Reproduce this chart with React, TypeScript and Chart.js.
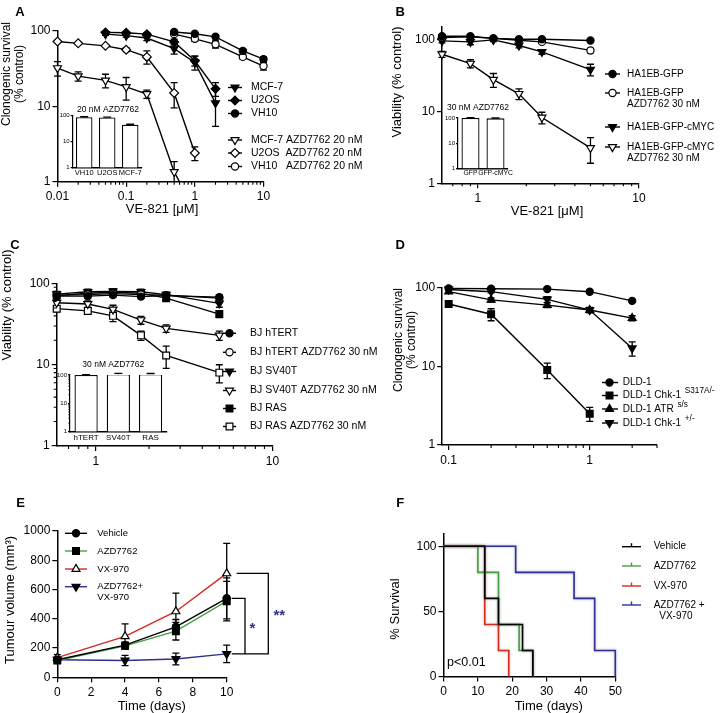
import React, { useEffect, useRef } from 'react';
import { Chart, registerables } from 'chart.js';

Chart.register(...registerables);

const FONT = '"Liberation Sans", Arial, Helvetica, sans-serif';
const INK = '#000000';
const GREEN = '#4a9d44';
const RED = '#d42a1f';
const BLUE = '#2e3192';

// ===== Panel A data =====
const aDoseMCF7 = [0.05, 0.1, 0.2, 0.5, 1, 2];
const aMCF7 = [90, 86, 80, 58, 38, 11];
const aMCF7Err = [3, 4, 6, 9, 8, 5.6];
const aDoseU2OS = [0.05, 0.1, 0.2, 0.5, 1, 2];
const aU2OS = [95, 94, 90, 71, 40, 17];
const aU2OSErr = [3, 3, 4, 6, 6, 3.5];
const aDoseVH10 = [0.5, 1, 2, 5, 10];
const aVH10 = [96, 91, 83, 54, 42];
const aVH10Err = [3, 3, 3, 3, 3];
const aDoseMCF7Azd = [0.01, 0.02, 0.05, 0.1, 0.2, 0.5, 1];
const aMCF7Azd = [32, 25, 22, 18, 14.5, 1.35, 0.42];
const aMCF7AzdErr = [7, 3.5, 4.5, 6, 1.8, 0.5, 0];
const aDoseU2OSAzd = [0.01, 0.02, 0.05, 0.1, 0.2, 0.5, 1];
const aU2OSAzd = [72, 68, 63, 56, 45, 15, 2.4];
const aU2OSAzdErr = [2, 2, 2, 3, 9, 5.5, 0.5];
const aDoseVH10Azd = [0.5, 1, 2, 5, 10];
const aVH10Azd = [90, 78, 66, 45, 34];
const aVH10AzdErr = [4, 6, 7, 3, 4];
const aLabels = ['MCF-7', 'U2OS', 'VH10', 'MCF-7 AZD7762 20 nM', 'U2OS  AZD7762 20 nM', 'VH10   AZD7762 20 nM'];
const aInsetCats = ['VH10', 'U2OS', 'MCF-7'];
const aInsetVals = [88, 85, 45];
const aInsetErr = [3, 3, 2];
const aXTicks = [0.01, 0.1, 1, 10];

// ===== Panel B data =====
const bDose = [0.6, 0.9, 1.25, 1.8, 2.5, 5];
const bGFP = [110, 110, 103, 100, 100, 96];
const bGFPErr = [5, 4, 3, 3, 3, 3];
const bGFPAzd = [106, 108, 103, 97, 92, 70];
const bGFPAzdErr = [5, 4, 3, 3, 4, 5];
const bMYC = [95, 92, 98, 82, 67, 38];
const bMYCErr = [6, 8, 5, 6, 5, 7];
const bMYCAzd = [62, 46, 27.5, 17.5, 8.2, 3.1];
const bMYCAzdErr = [6, 6, 6, 3, 1.5, 1.2];
const bInsetCats = ['GFP', 'GFP-cMYC'];
const bInsetVals = [100, 97];
const bInsetErr = [4, 3];
const bXTicks = [1, 10];

// ===== Panel C data =====
const cDose = [0.6, 0.9, 1.25, 1.8, 2.5, 5];
const cHTERT = [70, 70, 72, 69, 71, 68];
const cHTERTErr = [5, 5, 4, 4, 4, 5];
const cHTERTAzd = [72, 73, 75, 73, 72, 66];
const cHTERTAzdErr = [4, 4, 4, 4, 4, 4];
const cSV40 = [74, 79, 80, 79, 73, 57];
const cSV40Err = [6, 6, 6, 6, 5, 6];
const cSV40Azd = [58, 56, 48, 35.5, 28, 23];
const cSV40AzdErr = [5, 5, 6, 4, 3, 3];
const cRAS = [71, 76, 78, 76, 66, 42];
const cRASErr = [5, 5, 5, 5, 5, 4];
const cRASAzd = [49, 46, 40, 23, 13, 8];
const cRASAzdErr = [4, 4, 6, 3, 4, 2];
const cLabels = ['BJ hTERT', 'BJ hTERT AZD7762 30 nM', 'BJ SV40T', 'BJ SV40T AZD7762 30 nM', 'BJ RAS', 'BJ RAS AZD7762 30 nM'];
const cInsetCats = ['hTERT', 'SV40T', 'RAS'];
const cInsetVals = [100, 106, 107];
const cInsetErr = [2, 8, 6];
const cXTicks = [1, 10];

// ===== Panel D data =====
const dDose = [0.1, 0.2, 0.5, 1, 2];
const dDLD = [98, 97, 96, 89, 68];
const dDLDErr = [3, 3, 3, 3, 3];
const dDoseChk1SA = [0.1, 0.2, 0.5, 1];
const dChk1SA = [62, 46, 9, 2.5];
const dChk1SAErr = [3, 8, 2, 0.5];
const dATR = [89, 70, 60, 52, 41];
const dATRErr = [4, 4, 4, 3, 3];
const dChk1Het = [95, 89, 71, 52, 17];
const dChk1HetErr = [3, 3, 6, 4, 3.5];
const dXTicks = [0.1, 1];

const logYTicks = [1, 10, 100];

// ===== Panel E data =====
const eDays = [0, 4, 7, 10];
const eVehicle = [120, 220, 345, 540];
const eVehicleErr = [15, 20, 50, 140];
const eAZD = [115, 215, 315, 520];
const eAZDErr = [15, 20, 60, 135];
const eVX = [135, 280, 450, 710];
const eVXErr = [20, 85, 125, 205];
const eCombo = [120, 115, 125, 160];
const eComboErr = [15, 35, 40, 60];
const eXTicks = [0, 2, 4, 6, 8, 10];
const eYTicks = [0, 200, 400, 600, 800, 1000];

// ===== Panel F data =====
const fVehTimes = [0, 12, 16, 23, 26];
const fVehSurv = [100, 60, 40, 20, 0];
const fAZDTimes = [0, 10, 16, 22, 26];
const fAZDSurv = [100, 80, 40, 20, 0];
const fVXTimes = [0, 12, 16, 19];
const fVXSurv = [100, 40, 20, 0];
const fComboTimes = [0, 21, 38, 44, 50];
const fComboSurv = [100, 80, 60, 20, 0];
const fXTicks = [0, 10, 20, 30, 40, 50];
const fYTicks = [0, 50, 100];

// ===== layout =====
type Rect = { left: number; top: number; width: number; height: number };
type Plot = { x0: number; y0: number; x1: number; y1: number };

const A_CANVAS: Rect = { left: 0, top: 0, width: 362, height: 230 };
const A_PLOT: Plot = { x0: 57.5, y0: 30.7, x1: 263.5, y1: 181.7 };
const AI_CANVAS: Rect = { left: 36, top: 100, width: 120, height: 80 };
const AI_PLOT: Plot = { x0: 72.7, y0: 115.7, x1: 141.7, y1: 167.7 };

const B_CANVAS: Rect = { left: 362, top: 0, width: 363, height: 230 };
const B_PLOT: Plot = { x0: 442, y0: 26.6, x1: 639, y1: 183.3 };
const BI_CANVAS: Rect = { left: 425, top: 100, width: 95, height: 82 };
const BI_PLOT: Plot = { x0: 458, y0: 118, x1: 508, y1: 168.5 };

const C_CANVAS: Rect = { left: 0, top: 230, width: 395, height: 240 };
const C_PLOT: Plot = { x0: 56.7, y0: 283.5, x1: 272.5, y1: 446 };
const CI_CANVAS: Rect = { left: 35, top: 355, width: 140, height: 92 };
const CI_PLOT: Plot = { x0: 70, y0: 375, x1: 166.7, y1: 431.7 };

const D_CANVAS: Rect = { left: 362, top: 230, width: 363, height: 240 };
const D_PLOT: Plot = { x0: 442.2, y0: 287.7, x1: 657, y1: 445 };

const E_CANVAS: Rect = { left: 0, top: 470, width: 362, height: 243 };
const E_PLOT: Plot = { x0: 57.3, y0: 531, x1: 226.7, y1: 677.3 };

const F_CANVAS: Rect = { left: 362, top: 470, width: 363, height: 243 };
const F_PLOT: Plot = { x0: 443.5, y0: 533.3, x1: 615.3, y1: 676.5 };

function padFor(c: Rect, p: Plot, yw: number, xh: number) {
  return {
    left: p.x0 - c.left - yw,
    top: p.y0 - c.top,
    right: c.left + c.width - p.x1,
    bottom: c.top + c.height - p.y1 - xh,
  };
}

// ===== markers =====
type Shape = { shape: string; rot: number; r: number };
const CIRCLE: Shape = { shape: 'circle', rot: 0, r: 3.6 };
const SQUARE: Shape = { shape: 'rect', rot: 0, r: 4.8 };
const DIAMOND: Shape = { shape: 'rectRot', rot: 0, r: 4.4 };
const TRI_UP: Shape = { shape: 'triangle', rot: 0, r: 4.6 };
const TRI_DOWN: Shape = { shape: 'triangle', rot: 180, r: 4.6 };

function drawMarker(ctx: CanvasRenderingContext2D, sh: Shape, x: number, y: number, fill: string, stroke: string) {
  ctx.save();
  ctx.beginPath();
  const r = sh.r;
  if (sh.shape === 'circle') ctx.arc(x, y, r, 0, Math.PI * 2);
  else if (sh.shape === 'rect') {
    const s = r * Math.SQRT1_2;
    ctx.rect(x - s, y - s, 2 * s, 2 * s);
  } else if (sh.shape === 'rectRot') {
    ctx.moveTo(x - r, y);
    ctx.lineTo(x, y - r);
    ctx.lineTo(x + r, y);
    ctx.lineTo(x, y + r);
    ctx.closePath();
  } else {
    let a = (sh.rot * Math.PI) / 180;
    for (let k = 0; k < 3; k++) {
      const px = x + Math.sin(a) * r;
      const py = y - Math.cos(a) * r;
      if (k === 0) ctx.moveTo(px, py);
      else ctx.lineTo(px, py);
      a += (2 * Math.PI) / 3;
    }
    ctx.closePath();
  }
  ctx.fillStyle = fill;
  ctx.fill();
  ctx.lineWidth = 1.2;
  ctx.strokeStyle = stroke;
  ctx.stroke();
  ctx.restore();
}

function text(
  ctx: CanvasRenderingContext2D,
  s: string,
  x: number,
  y: number,
  o: { size?: number; bold?: boolean; align?: CanvasTextAlign; rot?: number; color?: string } = {}
) {
  ctx.save();
  ctx.font = `${o.bold ? 'bold ' : ''}${o.size ?? 12}px ${FONT}`;
  ctx.fillStyle = o.color ?? INK;
  ctx.textAlign = o.align ?? 'center';
  ctx.textBaseline = 'middle';
  ctx.translate(x, y);
  if (o.rot) ctx.rotate(o.rot);
  ctx.fillText(s, 0, 0);
  ctx.restore();
}

type Row = { y: number; shape?: Shape; filled?: boolean; line?: string; lines: string[]; sup?: string; censor?: boolean };
function drawLegend(
  ctx: CanvasRenderingContext2D,
  rows: Row[],
  g: { x0: number; x1: number; mx: number; tx: number; size: number; lh: number }
) {
  for (const r of rows) {
    ctx.save();
    ctx.strokeStyle = r.line ?? INK;
    ctx.lineWidth = 1.4;
    ctx.beginPath();
    ctx.moveTo(g.x0, r.y);
    ctx.lineTo(g.x1, r.y);
    ctx.stroke();
    if (r.censor) {
      ctx.beginPath();
      ctx.moveTo(g.mx, r.y - 3.5);
      ctx.lineTo(g.mx, r.y);
      ctx.stroke();
    }
    ctx.restore();
    if (r.shape) drawMarker(ctx, r.shape, g.mx, r.y, r.filled ? INK : '#ffffff', INK);
    r.lines.forEach((s, i) => text(ctx, s, g.tx, r.y + i * g.lh, { size: g.size, align: 'left' }));
    if (r.sup) {
      ctx.save();
      ctx.font = `${g.size}px ${FONT}`;
      const w = ctx.measureText(r.lines[0]).width;
      ctx.restore();
      text(ctx, r.sup, g.tx + w + 1, r.y - 4.5, { size: g.size * 0.82, align: 'left' });
    }
  }
}

// ===== plugins =====
function decor(c: Rect, draw: (ctx: CanvasRenderingContext2D, chart: any) => void) {
  return {
    id: 'decor',
    afterDraw(chart: any) {
      const ctx = chart.ctx as CanvasRenderingContext2D;
      ctx.save();
      ctx.translate(-c.left, -c.top);
      draw(ctx, chart);
      ctx.restore();
    },
  };
}

function errorBars(errs: (number[] | null)[], cap: number, upOnly = false) {
  return {
    id: 'errbars',
    beforeDatasetsDraw(chart: any) {
      const ctx = chart.ctx as CanvasRenderingContext2D;
      const area = chart.chartArea;
      ctx.save();
      ctx.strokeStyle = INK;
      ctx.lineWidth = 1.3;
      errs.forEach((e, di) => {
        if (!e) return;
        const meta = chart.getDatasetMeta(di);
        const ys = chart.scales[meta.yAxisID];
        const ds = chart.data.datasets[di];
        meta.data.forEach((pt: any, i: number) => {
          const err = e[i];
          if (!err) return;
          const raw = ds.data[i];
          const v = typeof raw === 'number' ? raw : raw.y;
          const x = pt.x;
          const yTop = ys.getPixelForValue(v + err);
          const yMid = ys.getPixelForValue(v);
          const lo = v - err;
          let yBot = upOnly ? yMid : lo > 0 || ys.type !== 'logarithmic' ? ys.getPixelForValue(lo) : area.bottom + 10;
          let botCap = !upOnly;
          if (yBot > area.bottom) {
            yBot = area.bottom;
            botCap = false;
          }
          ctx.beginPath();
          ctx.moveTo(x, yTop);
          ctx.lineTo(x, yBot);
          ctx.moveTo(x - cap, yTop);
          ctx.lineTo(x + cap, yTop);
          if (botCap) {
            ctx.moveTo(x - cap, yBot);
            ctx.lineTo(x + cap, yBot);
          }
          ctx.stroke();
        });
      });
      ctx.restore();
    },
  };
}

function minorTicks(spec: { axis: string; values: number[]; len: number }[]) {
  return {
    id: 'minorticks',
    afterDraw(chart: any) {
      const ctx = chart.ctx as CanvasRenderingContext2D;
      ctx.save();
      ctx.strokeStyle = INK;
      ctx.lineWidth = 1.1;
      for (const s of spec) {
        const sc = chart.scales[s.axis];
        ctx.beginPath();
        for (const v of s.values) {
          const p = sc.getPixelForValue(v);
          if (sc.isHorizontal()) {
            ctx.moveTo(p, sc.top);
            ctx.lineTo(p, sc.top + s.len);
          } else {
            ctx.moveTo(sc.right, p);
            ctx.lineTo(sc.right - s.len, p);
          }
        }
        ctx.stroke();
      }
      ctx.restore();
    },
  };
}

function halo(colors: string[]) {
  return {
    id: 'halo',
    beforeDatasetDraw(chart: any, args: any) {
      const ctx = chart.ctx as CanvasRenderingContext2D;
      ctx.save();
      ctx.shadowColor = colors[args.index];
      ctx.shadowBlur = 2.5;
    },
    afterDatasetDraw(chart: any) {
      chart.ctx.restore();
    },
  };
}

function logMinor(min: number, max: number): number[] {
  const out: number[] = [];
  for (let d = Math.floor(Math.log10(min)); d <= Math.ceil(Math.log10(max)); d++) {
    const base = Math.pow(10, d);
    for (let m = 2; m <= 9; m++) {
      const v = m * base;
      if (v > min * 1.001 && v < max * 1.001) out.push(v);
    }
  }
  return out;
}

// ===== axis factory =====
function axis(
  kind: 'x' | 'y',
  size: number,
  fontSize: number,
  tickLen: number,
  pad: number,
  ticks: number[] | null,
  extra: any = {},
  labels: string[] | null = null
) {
  const o: any = {
    position: kind === 'x' ? 'bottom' : 'left',
    afterFit: (ax: any) => {
      if (kind === 'x') ax.height = size;
      else ax.width = size;
    },
    grid: {
      display: true,
      drawOnChartArea: false,
      drawTicks: tickLen > 0,
      tickLength: tickLen,
      color: INK,
      lineWidth: 1.2,
    },
    border: { display: true, color: INK, width: 1.5 },
    ticks: {
      color: INK,
      font: { family: FONT, size: fontSize },
      padding: pad,
      maxRotation: 0,
      minRotation: 0,
      autoSkip: false,
      callback: labels ? (_v: any, i: number) => labels[i] : (v: any) => String(v),
    },
    ...extra,
  };
  if (ticks) o.afterBuildTicks = (ax: any) => {
    ax.ticks = ticks.map((v) => ({ value: v }));
  };
  return o;
}

function baseOptions(c: Rect, p: Plot, yw: number, xh: number, scales: any) {
  return {
    responsive: false,
    maintainAspectRatio: false,
    animation: false,
    events: [],
    devicePixelRatio: 1,
    layout: { autoPadding: false, padding: padFor(c, p, yw, xh) },
    plugins: { legend: { display: false }, tooltip: { enabled: false }, title: { display: false } },
    scales,
  };
}

function series(xs: number[], ys: number[], sh: Shape, filled: boolean, line = INK, extra: any = {}) {
  return {
    data: xs.map((x, i) => ({ x, y: ys[i] })),
    borderColor: line,
    backgroundColor: line,
    borderWidth: 1.4,
    pointStyle: sh.shape,
    pointRotation: sh.rot,
    pointRadius: sh.r,
    pointHoverRadius: sh.r,
    pointBackgroundColor: filled ? INK : '#ffffff',
    pointBorderColor: INK,
    pointBorderWidth: 1.2,
    tension: 0,
    clip: false,
    ...extra,
  };
}

const TICK = 12;
const YW = 36;
const XH = 22;

// ===== Panel A =====
function makeA() {
  return {
    type: 'line',
    data: {
      datasets: [
        series(aDoseMCF7, aMCF7, TRI_DOWN, true),
        series(aDoseU2OS, aU2OS, DIAMOND, true),
        series(aDoseVH10, aVH10, CIRCLE, true),
        series(aDoseMCF7Azd, aMCF7Azd, TRI_DOWN, false, INK, { clip: { left: false, top: false, right: false, bottom: 0 } }),
        series(aDoseU2OSAzd, aU2OSAzd, DIAMOND, false),
        series(aDoseVH10Azd, aVH10Azd, CIRCLE, false),
      ],
    },
    options: baseOptions(A_CANVAS, A_PLOT, YW, XH, {
      x: { type: 'logarithmic', min: 0.01, max: 10, ...axis('x', XH, TICK, 5, 3, aXTicks) },
      y: { type: 'logarithmic', min: 1, max: 100, ...axis('y', YW, TICK, 5, 2, logYTicks) },
    }),
    plugins: [
      errorBars([aMCF7Err, aU2OSErr, aVH10Err, aMCF7AzdErr, aU2OSAzdErr, aVH10AzdErr], 3.5),
      minorTicks([{ axis: 'x', values: logMinor(0.01, 10), len: 3 }]),
      decor(A_CANVAS, (ctx) => {
        text(ctx, 'A', 20, 12, { size: 13, bold: true });
        text(ctx, 'Clonogenic survival', 7, 74, { size: 12, rot: -Math.PI / 2 });
        text(ctx, '(% control)', 20, 74, { size: 12, rot: -Math.PI / 2 });
        text(ctx, 'VE-821 [\u03bcM]', 162, 209, { size: 13 });
        const shapes: [Shape, boolean, number][] = [
          [TRI_DOWN, true, 87.5],
          [DIAMOND, true, 100.5],
          [CIRCLE, true, 113.5],
          [TRI_DOWN, false, 140],
          [DIAMOND, false, 153],
          [CIRCLE, false, 166.5],
        ];
        drawLegend(
          ctx,
          shapes.map(([s, f, y], i) => ({ y, shape: s, filled: f, lines: [aLabels[i]] })),
          { x0: 228, x1: 242, mx: 235, tx: 251, size: 10.5, lh: 11 }
        );
      }),
    ],
  };
}

function makeInset(
  c: Rect,
  p: Plot,
  cats: string[],
  vals: number[],
  errs: number[],
  title: string,
  tx: number,
  ty: number,
  yMinor: boolean,
  labelSize: number
) {
  const plugins: any[] = [
    errorBars([errs], 4, true),
    decor(c, (ctx) => {
      text(ctx, title, tx, ty, { size: 8.5 });
    }),
  ];
  if (yMinor) plugins.push(minorTicks([{ axis: 'y', values: logMinor(1, 100), len: 1.5 }]));
  return {
    type: 'bar',
    data: {
      labels: cats,
      datasets: [
        {
          data: vals,
          backgroundColor: '#ffffff',
          borderColor: INK,
          borderWidth: 1.3,
          barPercentage: 0.72,
          categoryPercentage: 1,
        },
      ],
    },
    options: baseOptions(c, p, 14, 10, {
      x: { type: 'category', ...axis('x', 10, labelSize, 0, 1, null, {}, cats) },
      y: { type: 'logarithmic', min: 1, max: 100, ...axis('y', 14, 6, 2, 1, logYTicks, { border: { display: true, color: INK, width: 1.2 } }) },
    }),
    plugins,
  };
}

const makeAInset = () => makeInset(AI_CANVAS, AI_PLOT, aInsetCats, aInsetVals, aInsetErr, '20 nM AZD7762', 108, 110, false, 7.5);
const makeBInset = () => makeInset(BI_CANVAS, BI_PLOT, bInsetCats, bInsetVals, bInsetErr, '30 nM AZD7762', 478, 107.5, false, 6.8);
const makeCInset = () => makeInset(CI_CANVAS, CI_PLOT, cInsetCats, cInsetVals, cInsetErr, '30 nM AZD7762', 113.3, 365, true, 8);

// ===== Panel B =====
function makeB() {
  return {
    type: 'line',
    data: {
      datasets: [
        series(bDose, bGFP, CIRCLE, true),
        series(bDose, bGFPAzd, CIRCLE, false),
        series(bDose, bMYC, TRI_DOWN, true),
        series(bDose, bMYCAzd, TRI_DOWN, false),
      ],
    },
    options: baseOptions(B_CANVAS, B_PLOT, YW, XH, {
      x: { type: 'logarithmic', min: 0.6, max: 10, ...axis('x', XH, TICK, 5, 3, bXTicks) },
      y: { type: 'logarithmic', min: 1, max: 150, ...axis('y', YW, TICK, 5, 2, logYTicks) },
    }),
    plugins: [
      errorBars([bGFPErr, bGFPAzdErr, bMYCErr, bMYCAzdErr], 3.5),
      minorTicks([{ axis: 'x', values: logMinor(0.6, 10), len: 3 }]),
      decor(B_CANVAS, (ctx) => {
        text(ctx, 'B', 400.3, 12, { size: 13, bold: true });
        text(ctx, 'Viability (% control)', 397, 82, { size: 13, rot: -Math.PI / 2 });
        text(ctx, 'VE-821 [\u03bcM]', 547, 211, { size: 13 });
        drawLegend(
          ctx,
          [
            { y: 74, shape: CIRCLE, filled: true, lines: ['HA1EB-GFP'] },
            { y: 93, shape: CIRCLE, filled: false, lines: ['HA1EB-GFP', 'AZD7762 30 nM'] },
            { y: 127, shape: TRI_DOWN, filled: true, lines: ['HA1EB-GFP-cMYC'] },
            { y: 147, shape: TRI_DOWN, filled: false, lines: ['HA1EB-GFP-cMYC', 'AZD7762 30 nM'] },
          ],
          { x0: 605, x1: 620, mx: 612.5, tx: 627, size: 10, lh: 11 }
        );
      }),
    ],
  };
}

// ===== Panel C =====
function makeC() {
  return {
    type: 'line',
    data: {
      datasets: [
        series(cDose, cHTERT, CIRCLE, true),
        series(cDose, cHTERTAzd, CIRCLE, false),
        series(cDose, cSV40, TRI_DOWN, true),
        series(cDose, cSV40Azd, TRI_DOWN, false),
        series(cDose, cRAS, SQUARE, true),
        series(cDose, cRASAzd, SQUARE, false),
      ],
    },
    options: baseOptions(C_CANVAS, C_PLOT, YW, XH, {
      x: { type: 'logarithmic', min: 0.6, max: 10, ...axis('x', XH, TICK, 5, 3, cXTicks) },
      y: { type: 'logarithmic', min: 1, max: 100, ...axis('y', YW, TICK, 5, 2, logYTicks) },
    }),
    plugins: [
      errorBars([cHTERTErr, cHTERTAzdErr, cSV40Err, cSV40AzdErr, cRASErr, cRASAzdErr], 3.5),
      minorTicks([
        { axis: 'x', values: logMinor(0.6, 10), len: 3 },
        { axis: 'y', values: logMinor(1, 100), len: 3 },
      ]),
      decor(C_CANVAS, (ctx) => {
        text(ctx, 'C', 15, 245, { size: 13, bold: true });
        text(ctx, 'Viability (% control)', 7, 305, { size: 13, rot: -Math.PI / 2 });
        text(ctx, 'VE-821 [\u03bcM]', 157, 478, { size: 13 });
        const shapes: [Shape, boolean][] = [
          [CIRCLE, true],
          [CIRCLE, false],
          [TRI_DOWN, true],
          [TRI_DOWN, false],
          [SQUARE, true],
          [SQUARE, false],
        ];
        const ys = [333.3, 352.3, 371.5, 390.5, 408.5, 426.5];
        drawLegend(
          ctx,
          shapes.map(([s, f], i) => ({ y: ys[i], shape: s, filled: f, lines: [cLabels[i]] })),
          { x0: 223, x1: 236, mx: 229.5, tx: 250, size: 10.5, lh: 11 }
        );
      }),
    ],
  };
}

// ===== Panel D =====
function makeD() {
  return {
    type: 'line',
    data: {
      datasets: [
        series(dDose, dDLD, CIRCLE, true),
        series(dDoseChk1SA, dChk1SA, SQUARE, true),
        series(dDose, dATR, TRI_UP, true),
        series(dDose, dChk1Het, TRI_DOWN, true),
      ],
    },
    options: baseOptions(D_CANVAS, D_PLOT, YW, XH, {
      x: { type: 'logarithmic', min: 0.09, max: 3, ...axis('x', XH, TICK, 5, 3, dXTicks) },
      y: { type: 'logarithmic', min: 1, max: 100, ...axis('y', YW, TICK, 5, 2, logYTicks) },
    }),
    plugins: [
      errorBars([dDLDErr, dChk1SAErr, dATRErr, dChk1HetErr], 3.5),
      minorTicks([{ axis: 'x', values: logMinor(0.09, 3), len: 3 }]),
      decor(D_CANVAS, (ctx) => {
        text(ctx, 'D', 400.3, 245, { size: 13, bold: true });
        text(ctx, 'Clonogenic survival', 398.7, 340, { size: 12, rot: -Math.PI / 2 });
        text(ctx, '(% control)', 412, 340, { size: 12, rot: -Math.PI / 2 });
        text(ctx, 'VE-821 [\u03bcM]', 547, 478, { size: 13 });
        drawLegend(
          ctx,
          [
            { y: 382.5, shape: CIRCLE, filled: true, lines: ['DLD-1'] },
            { y: 395.5, shape: SQUARE, filled: true, lines: ['DLD-1 Chk-1 '], sup: 'S317A/-' },
            { y: 409, shape: TRI_UP, filled: true, lines: ['DLD-1 ATR '], sup: 's/s' },
            { y: 423, shape: TRI_DOWN, filled: true, lines: ['DLD-1 Chk-1 '], sup: '+/-' },
          ],
          { x0: 602, x1: 618, mx: 609.5, tx: 622.7, size: 10, lh: 11 }
        );
      }),
    ],
  };
}

// ===== Panel E =====
function makeE() {
  return {
    type: 'line',
    data: {
      datasets: [
        series(eDays, eVehicle, CIRCLE, true, INK),
        series(eDays, eAZD, SQUARE, true, GREEN),
        series(eDays, eVX, TRI_UP, false, RED),
        series(eDays, eCombo, TRI_DOWN, true, BLUE),
      ],
    },
    options: baseOptions(E_CANVAS, E_PLOT, YW, XH, {
      x: { type: 'linear', min: 0, max: 10, ...axis('x', XH, TICK, 5, 3, eXTicks) },
      y: { type: 'linear', min: 0, max: 1000, ...axis('y', YW, TICK, 5, 2, eYTicks) },
    }),
    plugins: [
      errorBars([eVehicleErr, eAZDErr, eVXErr, eComboErr], 3.5),
      decor(E_CANVAS, (ctx, chart) => {
        text(ctx, 'E', 20.7, 503.3, { size: 13, bold: true });
        text(ctx, 'Tumour volume (mm\u00b3)', 10, 600, { size: 13, rot: -Math.PI / 2 });
        text(ctx, 'Time (days)', 151.7, 706, { size: 13 });
        drawLegend(
          ctx,
          [
            { y: 533.3, shape: CIRCLE, filled: true, line: INK, lines: ['Vehicle'] },
            { y: 551, shape: SQUARE, filled: true, line: GREEN, lines: ['AZD7762'] },
            { y: 569, shape: TRI_UP, filled: false, line: RED, lines: ['VX-970'] },
            { y: 586.7, shape: TRI_DOWN, filled: true, line: BLUE, lines: ['AZD7762+', 'VX-970'] },
          ],
          { x0: 65, x1: 87, mx: 76, tx: 97.3, size: 9.5, lh: 10.6 }
        );
        const ys = chart.scales.y;
        const oy = E_CANVAS.top;
        const yV = ys.getPixelForValue(eVehicle[3]) + oy;
        const yX = ys.getPixelForValue(eVX[3]) + oy;
        const yC = ys.getPixelForValue(eCombo[3]) + oy;
        ctx.save();
        ctx.strokeStyle = INK;
        ctx.lineWidth = 1.3;
        ctx.beginPath();
        ctx.moveTo(231.7, yV);
        ctx.lineTo(245, yV);
        ctx.lineTo(245, yC);
        ctx.lineTo(231.7, yC);
        ctx.moveTo(236.7, yX);
        ctx.lineTo(268.3, yX);
        ctx.lineTo(268.3, yC);
        ctx.lineTo(245, yC);
        ctx.stroke();
        ctx.restore();
        text(ctx, '*', 252.3, 629, { size: 15, bold: true, color: BLUE });
        text(ctx, '**', 279.3, 616, { size: 15, bold: true, color: BLUE });
      }),
    ],
  };
}

// ===== Panel F =====
function stepSeries(ts: number[], ss: number[], color: string) {
  return {
    data: ts.map((t, i) => ({ x: t, y: ss[i] })),
    borderColor: color,
    backgroundColor: color,
    borderWidth: 1.6,
    stepped: true,
    pointRadius: 0,
    pointHoverRadius: 0,
    clip: false,
  };
}

function makeF() {
  return {
    type: 'line',
    data: {
      datasets: [
        stepSeries(fVehTimes, fVehSurv, INK),
        stepSeries(fAZDTimes, fAZDSurv, GREEN),
        stepSeries(fVXTimes, fVXSurv, RED),
        stepSeries(fComboTimes, fComboSurv, BLUE),
      ],
    },
    options: baseOptions(F_CANVAS, F_PLOT, YW, XH, {
      x: { type: 'linear', min: 0, max: 50, ...axis('x', XH, TICK, 5, 3, fXTicks) },
      y: { type: 'linear', min: 0, max: 110, ...axis('y', YW, TICK, 5, 2, fYTicks) },
    }),
    plugins: [
      halo(['rgba(0,0,0,0.35)', 'rgba(74,157,68,0.45)', 'rgba(212,42,31,0.45)', 'rgba(46,49,146,0.45)']),
      decor(F_CANVAS, (ctx) => {
        text(ctx, 'F', 400.3, 503.3, { size: 13, bold: true });
        text(ctx, '% Survival', 395.3, 609, { size: 13, rot: -Math.PI / 2 });
        text(ctx, 'Time (days)', 548.7, 706, { size: 13 });
        text(ctx, 'p<0.01', 447, 662.7, { size: 12.5, align: 'left' });
        drawLegend(
          ctx,
          [
            { y: 546.7, line: INK, censor: true, lines: ['Vehicle'] },
            { y: 566, line: GREEN, censor: true, lines: ['AZD7762'] },
            { y: 586, line: RED, censor: true, lines: ['VX-970'] },
            { y: 605, line: BLUE, censor: true, lines: ['AZD7762 +', '  VX-970'] },
          ],
          { x0: 622, x1: 641, mx: 631.5, tx: 653.7, size: 10, lh: 11.7 }
        );
      }),
    ],
  };
}

// ===== component =====
function ChartBox({ rect, make }: { rect: Rect; make: () => any }) {
  const ref = useRef<HTMLCanvasElement>(null);
  useEffect(() => {
    const chart = new Chart(ref.current as HTMLCanvasElement, make());
    return () => chart.destroy();
  }, []);
  return (
    <canvas
      ref={ref}
      width={rect.width}
      height={rect.height}
      style={{ position: 'absolute', left: rect.left, top: rect.top, width: rect.width, height: rect.height, display: 'block' }}
    />
  );
}

export default function App() {
  return (
    <div style={{ position: 'absolute', left: 0, top: 0, width: 725, height: 713, background: '#ffffff', overflow: 'hidden' }}>
      <ChartBox rect={A_CANVAS} make={makeA} />
      <ChartBox rect={B_CANVAS} make={makeB} />
      <ChartBox rect={D_CANVAS} make={makeD} />
      <ChartBox rect={C_CANVAS} make={makeC} />
      <ChartBox rect={E_CANVAS} make={makeE} />
      <ChartBox rect={F_CANVAS} make={makeF} />
      <ChartBox rect={AI_CANVAS} make={makeAInset} />
      <ChartBox rect={BI_CANVAS} make={makeBInset} />
      <ChartBox rect={CI_CANVAS} make={makeCInset} />
    </div>
  );
}
